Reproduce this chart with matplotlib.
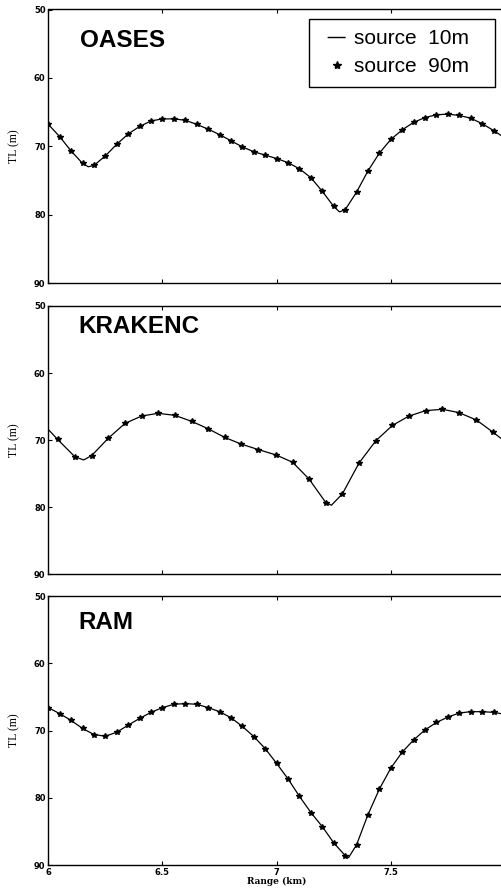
import matplotlib
matplotlib.use("Agg")
import matplotlib.pyplot as plt
from matplotlib.lines import Line2D

# range (km) of the 90 m source markers and TL values
r_oases = [6.00, 6.05, 6.10, 6.15, 6.20, 6.25, 6.30, 6.35, 6.40, 6.45, 6.50,
           6.55, 6.60, 6.65, 6.70, 6.75, 6.80, 6.85, 6.90, 6.95, 7.00,
           7.05, 7.10, 7.15, 7.20, 7.25, 7.30, 7.35, 7.40, 7.45, 7.50,
           7.55, 7.60, 7.65, 7.70, 7.75, 7.80, 7.85, 7.90, 7.95, 8.00]
tl_oases = [66.8, 68.6, 70.7, 72.5, 72.8, 71.4, 69.7, 68.2, 67.1, 66.3, 66.0,
            66.0, 66.2, 66.8, 67.5, 68.3, 69.2, 70.1, 70.8, 71.3, 71.8,
            72.4, 73.3, 74.6, 76.6, 78.8, 79.3, 76.7, 73.6, 71.0, 69.0,
            67.6, 66.5, 65.8, 65.4, 65.3, 65.5, 65.9, 66.7, 67.7, 68.8]

r_kraken = [6.041, 6.117, 6.190, 6.263, 6.336, 6.409, 6.481, 6.554, 6.628,
            6.700, 6.773, 6.846, 6.919, 6.997, 7.070, 7.142, 7.215, 7.288,
            7.361, 7.434, 7.507, 7.580, 7.653, 7.726, 7.799, 7.875, 7.947]
tl_kraken = [69.9, 72.5, 72.3, 69.7, 67.5, 66.4, 66.0, 66.3, 67.2,
             68.3, 69.6, 70.6, 71.4, 72.2, 73.3, 75.8, 79.3, 78.0,
             73.4, 70.1, 67.8, 66.4, 65.6, 65.4, 65.9, 67.0, 68.8]

r_ram = r_oases
tl_ram = [66.6, 67.5, 68.5, 69.7, 70.6, 70.85, 70.25, 69.2, 68.2, 67.3, 66.6,
          66.1, 66.0, 66.1, 66.6, 67.2, 68.1, 69.4, 70.9, 72.7, 74.9,
          77.2, 79.8, 82.2, 84.3, 86.7, 88.6, 87.0, 82.5, 78.7, 75.6,
          73.2, 71.4, 69.9, 68.8, 68.0, 67.4, 67.2, 67.2, 67.3, 67.6]

# extra points of the 10 m source line (ends and minima between markers)
extra_oases = [(6.175, 73.0), (7.275, 79.6)]
extra_kraken = [(6.0, 68.4), (6.155, 72.95), (7.24, 79.7), (8.0, 70.2)]
extra_ram = [(7.315, 88.9)]

names = ["OASES", "KRAKENC", "RAM"]
x_ticks = [6, 6.5, 7, 7.5, 8]
x_tick_labels = ["6", "6.5", "7", "7.5", ""]
y_ticks = [50, 60, 70, 80, 90]

W, H = 502, 888
fig = plt.figure(figsize=(W / 100, H / 100), dpi=100)

# panel boxes in pixels: top, bottom
boxes = [(9.5, 283), (306, 574.3), (596, 865)]
x0, x1 = 48.3, 505
title_pos = [(0.069, 0.864), (0.066, 0.898), (0.066, 0.877)]
series = [(r_oases, tl_oases, extra_oases),
          (r_kraken, tl_kraken, extra_kraken),
          (r_ram, tl_ram, extra_ram)]

axes = []
for i, (top, bot) in enumerate(boxes):
    ax = fig.add_axes([x0 / W, 1 - bot / H, (x1 - x0) / W, (bot - top) / H])
    r, tl, extra = series[i]
    pts = sorted(list(zip(r, tl)) + extra)
    ax.plot([p[0] for p in pts], [p[1] for p in pts], color="black", lw=0.9)
    ax.plot(r, tl, linestyle="none", marker="*", color="black", ms=4.3)
    ax.set_xlim(6, 8)
    ax.set_ylim(90, 50)
    ax.set_yticks(y_ticks)
    ax.set_yticklabels([str(v) for v in y_ticks], fontsize=6, fontweight="bold")
    ax.set_xticks(x_ticks)
    ax.tick_params(direction="in", length=3, width=0.8, top=True, right=True, pad=2)
    if i < 2:
        ax.set_xticklabels([])
    else:
        ax.set_xticklabels(x_tick_labels, fontsize=6, fontweight="bold")
        ax.set_xlabel("Range (km)", fontsize=6.5, family="DejaVu Serif", fontweight="bold")
        ax.xaxis.set_label_coords(0.5, -0.045)
    ax.set_ylabel("TL (m)", fontsize=8.5, family="Liberation Serif")
    ax.yaxis.set_label_coords(-0.062, 0.5)
    for s in ax.spines.values():
        s.set_linewidth(1.0)
    ax.text(title_pos[i][0], title_pos[i][1], names[i], transform=ax.transAxes,
            fontsize=17.5, fontweight="bold", family="Liberation Sans", va="baseline")
    axes.append(ax)

# short dash in the middle of a long handle, so the box gets its wide left margin
handles = [Line2D([], [], color="black", lw=1, linestyle=(18.9, (13, 11.75))),
           Line2D([], [], color="black", linestyle="none", marker="*", ms=6)]
leg = axes[0].legend(handles, ["source  10m", "source  90m"], loc="upper left",
                     bbox_to_anchor=(0.571, 0.5, 0.407, 0.465), mode="expand",
                     borderaxespad=0, fancybox=False, framealpha=1,
                     edgecolor="black", handlelength=1.65, handletextpad=0.0,
                     borderpad=0.5, labelspacing=0.42,
                     prop={"family": "Liberation Sans", "size": 15})
leg.get_frame().set_linewidth(1.0)

fig.savefig("out.png", dpi=100)
